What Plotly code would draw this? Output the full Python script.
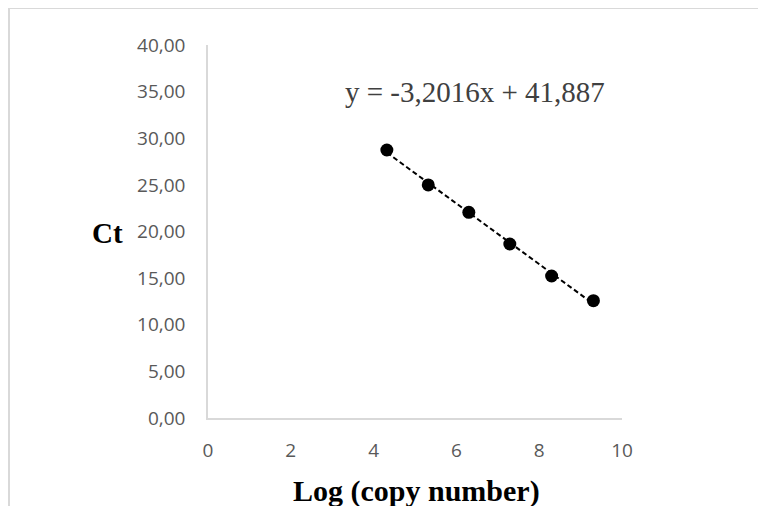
import numpy as np
import plotly.graph_objects as go

# Data
log_copy = [4.32, 5.32, 6.30, 7.29, 8.30, 9.31]
ct_values = [28.74, 24.99, 22.06, 18.66, 15.23, 12.58]

equation_text = "y = -3,2016x + 41,887"

x_tickvals = [0, 2, 4, 6, 8, 10]
x_ticktext = ["0", "2", "4", "6", "8", "10"]
y_tickvals = [0, 5, 10, 15, 20, 25, 30, 35, 40]
y_ticktext = ["0,00", "5,00", "10,00", "15,00", "20,00", "25,00", "30,00", "35,00", "40,00"]

# Trendline fitted through the data
fit = np.polyfit(log_copy, ct_values, 1)
trend_x = [min(log_copy), max(log_copy)]
trend_y = [fit[0] * v + fit[1] for v in trend_x]

fig = go.Figure()
fig.add_trace(go.Scatter(x=trend_x, y=trend_y, mode="lines",
                         line=dict(color="black", width=2, dash="5px,3px"),
                         hoverinfo="skip", showlegend=False))
fig.add_trace(go.Scatter(x=log_copy, y=ct_values, mode="markers",
                         marker=dict(color="black", size=13),
                         showlegend=False))

OFF = 8  # page body margin
W, H = 766 - OFF, 506 - OFF
L, T = 208 - OFF, 45 - OFF
pw, ph = 414, 373
R, B = W - L - pw, H - T - ph

def px_x(px):
    return (px - OFF - L) / pw

def px_y(py):
    return (T + ph - (py - OFF)) / ph

tick_font = dict(family="Open Sans, Lato, sans-serif", size=19, color="#595959")
fig.update_layout(
    width=W, height=H,
    margin=dict(l=L, r=R, t=T, b=B),
    paper_bgcolor="white", plot_bgcolor="white",
    xaxis=dict(range=[0, 10], tickvals=x_tickvals, ticktext=x_ticktext,
               showgrid=False, zeroline=False, showline=True,
               linecolor="#d9d9d9", linewidth=1.5, ticks="",
               tickfont=tick_font, ticklabelstandoff=14),
    yaxis=dict(range=[0, 40], tickvals=y_tickvals, ticktext=y_ticktext,
               showgrid=False, zeroline=False, showline=True,
               linecolor="#d9d9d9", linewidth=1.5, ticks="",
               tickfont=tick_font, ticklabelstandoff=17),
    annotations=[
        dict(x=px_x(475), y=px_y(92), xref="paper", yref="paper", text=equation_text,
             xanchor="center", yanchor="middle",
             showarrow=False, font=dict(family="Liberation Serif, serif", size=29, color="#404040")),
        dict(x=px_x(107), y=px_y(233), xref="paper", yref="paper", text="<b>Ct</b>",
             xanchor="center", yanchor="middle",
             showarrow=False, font=dict(family="Liberation Serif, serif", size=29, color="black")),
        dict(x=px_x(416), y=px_y(491), xref="paper", yref="paper", text="<b>Log (copy number)</b>",
             xanchor="center", yanchor="middle",
             showarrow=False, font=dict(family="Liberation Serif, serif", size=30, color="black")),
    ],
    shapes=[
        dict(type="line", xref="paper", yref="paper", x0=px_x(9), x1=px_x(9),
             y0=px_y(8), y1=px_y(530), line=dict(color="#d9d9d9", width=2)),
        dict(type="line", xref="paper", yref="paper", x0=px_x(9), x1=px_x(790),
             y0=px_y(8), y1=px_y(8), line=dict(color="#d9d9d9", width=2)),
    ],
)

fig.write_html("out.html")
